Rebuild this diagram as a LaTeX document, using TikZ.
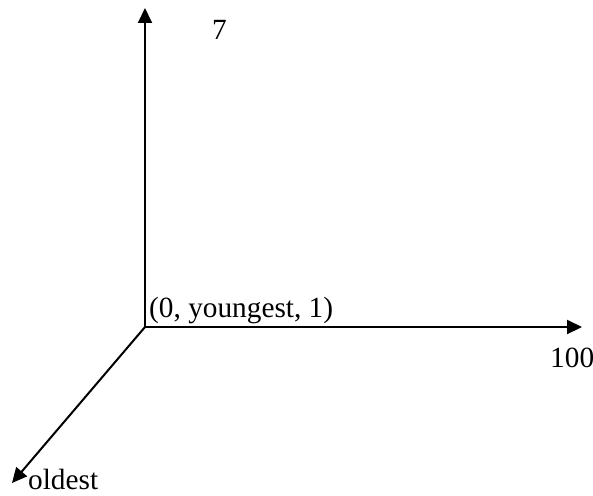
\documentclass[tikz,border=0pt]{standalone}
\usepackage{fontspec}
\setmainfont{Liberation Serif}
\usetikzlibrary{arrows.meta}
\begin{document}
\begin{tikzpicture}[x=1pt,y=-1pt,
  axis/.style={line width=2pt,-{Triangle[length=15pt,width=14pt]}},
  lbl/.style={anchor=base west,inner sep=0pt,font=\fontsize{29.3}{35}\selectfont}]
\useasboundingbox (0,0) rectangle (593,495);
\coordinate (o) at (145,327);
\coordinate (top) at (145,8);
\coordinate (right) at (582,327);
\coordinate (diag) at (12,483);
\draw[axis] (o) -- (top);
\draw[axis] (o) -- (right);
\draw[axis] (o) -- (diag);
\node[lbl] (seven) at (212,40) {7};
\node[lbl] (orig) at (149,317) {(0, youngest, 1)};
\node[lbl] (hundred) at (550,367) {100};
\node[lbl] (oldest) at (28,489) {oldest};
\end{tikzpicture}
\end{document}
